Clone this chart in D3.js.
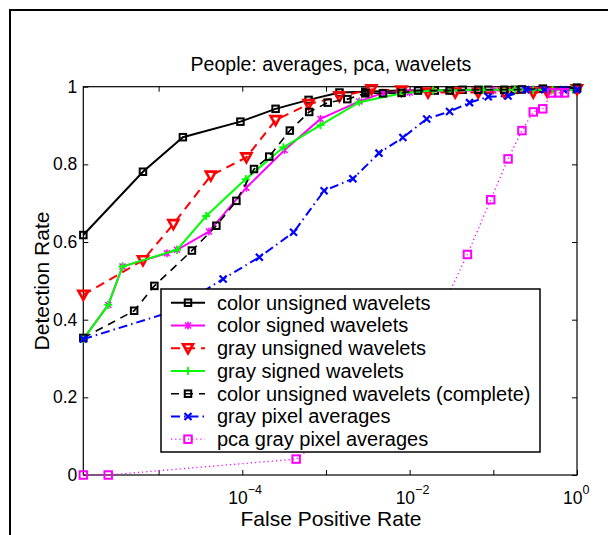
<!DOCTYPE html>
<html>
<head>
<meta charset="utf-8">
<script src="https://cdn.jsdelivr.net/npm/d3@7"></script>
<style>
body { margin: 0; background: #fff; }
svg { display: block; }
text { font-family: "Liberation Sans", Arial, sans-serif; fill: #000; }
</style>
</head>
<body>
<div id="chart"></div>
<script>
// values (x = false positive rate, y = detection rate)
const colorUnsignedFpr = [1.26e-6, 6.5e-6, 1.95e-5, 9.5e-5, 2.5e-4, 6.2e-4, 1.45e-3, 2.95e-3, 8e-3, 2e-2, 4.3e-2, 8.7e-2, 0.18, 0.39, 1];
const colorUnsignedDet = [0.618, 0.781, 0.870, 0.910, 0.943, 0.966, 0.985, 0.987, 0.99, 0.99, 0.992, 0.992, 0.992, 0.995, 0.997];

const colorSignedFpr = [1.26e-6, 2.5e-6, 3.7e-6, 1.26e-5, 1.66e-5, 4.0e-5, 1.12e-4, 3.2e-4, 8.6e-4, 2.5e-3, 4.8e-3, 1e-2, 3e-2, 0.1, 0.3, 1];
const colorSignedDet = [0.35, 0.438, 0.537, 0.571, 0.580, 0.627, 0.740, 0.837, 0.917, 0.962, 0.984, 0.985, 0.99, 0.99, 0.993, 0.995];

const grayUnsignedFpr = [1.26e-6, 6.5e-6, 1.5e-5, 4.2e-5, 1.12e-4, 2.5e-4, 6.2e-4, 1.45e-3, 3.5e-3, 8e-3, 1.66e-2, 3.5e-2, 6.6e-2, 0.135, 0.3, 0.44, 1];
const grayUnsignedDet = [0.464, 0.553, 0.646, 0.771, 0.818, 0.914, 0.955, 0.975, 0.993, 0.99, 0.985, 0.985, 0.985, 0.985, 0.985, 0.987, 0.993];

const graySignedFpr = [1.26e-6, 2.5e-6, 3.7e-6, 1.66e-5, 3.7e-5, 1.1e-4, 3.1e-4, 8.6e-4, 2.5e-3, 8e-3, 1.9e-2, 3e-2, 7.6e-2, 0.135, 0.18, 0.3, 0.51, 0.89];
const graySignedDet = [0.35, 0.438, 0.537, 0.580, 0.667, 0.762, 0.844, 0.901, 0.960, 0.983, 0.99, 0.99, 0.992, 0.992, 0.992, 0.992, 0.992, 0.992];

const completeFpr = [1.26e-6, 5.1e-6, 8.9e-6, 2.5e-5, 4.9e-5, 8.5e-5, 1.38e-4, 2.1e-4, 3.7e-4, 6.3e-4, 1.05e-3, 1.8e-3, 2.95e-3, 4.8e-3, 8e-3, 1.26e-2, 3e-2, 6.6e-2, 0.135, 0.22, 1];
const completeDet = [0.353, 0.423, 0.487, 0.578, 0.642, 0.706, 0.788, 0.820, 0.887, 0.935, 0.959, 0.968, 0.983, 0.983, 0.984, 0.99, 0.99, 0.992, 0.992, 0.993, 0.997];

const pixelAvgFpr = [1.26e-6, 1.4e-5, 5.9e-5, 1.6e-4, 4.1e-4, 9.5e-4, 2.1e-3, 4.3e-3, 8.3e-3, 1.6e-2, 3e-2, 5.2e-2, 8.7e-2, 0.15, 0.245, 0.41, 0.69, 1];
const pixelAvgDet = [0.35, 0.42, 0.505, 0.561, 0.625, 0.732, 0.763, 0.829, 0.869, 0.917, 0.936, 0.959, 0.974, 0.976, 0.992, 0.992, 0.992, 0.992];

const pcaFpr = [1.26e-6, 2.5e-6, 4.4e-4, 1.05e-2, 4.9e-2, 9.3e-2, 0.15, 0.22, 0.3, 0.39, 0.5, 0.6, 0.71];
const pcaDet = [0, 0, 0.041, 0.265, 0.568, 0.709, 0.814, 0.887, 0.935, 0.943, 0.984, 0.984, 0.984];

const seriesNames = [
    'color unsigned wavelets',
    'color signed wavelets',
    'gray unsigned wavelets',
    'gray signed wavelets',
    'color unsigned wavelets (complete)',
    'gray pixel averages',
    'pca gray pixel averages'
];

const xTicks = [1e-5, 1e-4, 1e-3, 1e-2, 1e-1, 1];
const xLabelTicks = [1e-4, 1e-2, 1];
const xLabelExps = ['\u22124', '\u22122', '0'];
const yTicks = [0, 0.2, 0.4, 0.6, 0.8, 1];
const yTickLabels = ['0', '0.2', '0.4', '0.6', '0.8', '1'];

const zip = (a, b) => a.map((v, i) => [v, b[i]]);

// styles per series, same order as the legend
const series = [
    { pts: zip(colorUnsignedFpr, colorUnsignedDet), color: '#000000', dash: null, width: 2, marker: 'square' },
    { pts: zip(colorSignedFpr, colorSignedDet), color: '#ff00ff', dash: null, width: 2, marker: 'star' },
    { pts: zip(grayUnsignedFpr, grayUnsignedDet), color: '#ff0000', dash: '9,6', width: 2, marker: 'tri' },
    { pts: zip(graySignedFpr, graySignedDet), color: '#00ff00', dash: null, width: 2, marker: 'plus' },
    { pts: zip(completeFpr, completeDet), color: '#000000', dash: '8,6', width: 1.6, marker: 'square' },
    { pts: zip(pixelAvgFpr, pixelAvgDet), color: '#0000ff', dash: '9,4,1.5,4', width: 2, marker: 'x' },
    { pts: zip(pcaFpr, pcaDet), color: '#ff00ff', dash: '1.2,3', width: 1.3, marker: 'bigsquare' }
];
series.forEach((s, i) => s.name = seriesNames[i]);

const W = 608, H = 535;
const x0 = 83.3, x1 = 577, yTop = 86.7, yBot = 475;

const svg = d3.select('#chart').append('svg')
    .attr('width', W)
    .attr('height', H);

// outer figure frame (runs off the right/bottom edge)
svg.append('rect')
    .attr('x', 10).attr('y', 10)
    .attr('width', 620).attr('height', 560)
    .attr('fill', 'none')
    .attr('stroke', '#000')
    .attr('stroke-width', 2);

const x = d3.scaleLog().domain([Math.pow(10, -5.9), 1]).range([x0, x1]);
const y = d3.scaleLinear().domain([0, 1]).range([yBot, yTop]);

// ticks, inward on all four sides
function styleAxis(g) {
    g.select('.domain').remove();
    g.selectAll('.tick line').attr('stroke', '#000').attr('stroke-width', 1);
}
svg.append('g').attr('transform', `translate(0,${yBot})`)
    .call(d3.axisBottom(x).tickValues(xTicks).tickSize(-5).tickFormat(''))
    .call(styleAxis);
svg.append('g').attr('transform', `translate(0,${yTop})`)
    .call(d3.axisTop(x).tickValues(xTicks).tickSize(-5).tickFormat(''))
    .call(styleAxis);
svg.append('g').attr('transform', `translate(${x0},0)`)
    .call(d3.axisLeft(y).tickValues(yTicks).tickSize(-5).tickPadding(6)
        .tickFormat((d, i) => yTickLabels[i]))
    .call(styleAxis)
    .call(g => g.selectAll('text').attr('font-size', 17.5).attr('fill', '#000')
        .attr('font-family', '"Liberation Sans", Arial, sans-serif'));
svg.append('g').attr('transform', `translate(${x1},0)`)
    .call(d3.axisRight(y).tickValues(yTicks).tickSize(-5).tickFormat(''))
    .call(styleAxis);

svg.append('rect')
    .attr('x', x0).attr('y', yTop)
    .attr('width', x1 - x0).attr('height', yBot - yTop)
    .attr('fill', 'none')
    .attr('stroke', '#000')
    .attr('stroke-width', 1.2);

// 10^n labels
const xl = svg.append('g').selectAll('text')
    .data(xLabelTicks)
    .join('text')
    .attr('x', d => x(d) - 14)
    .attr('y', 504)
    .attr('font-size', 17.5);
xl.append('tspan').text('10');
xl.append('tspan').attr('dy', -10).attr('font-size', 12.5).text((d, i) => xLabelExps[i]);

svg.append('text')
    .attr('x', 331).attr('y', 71)
    .attr('text-anchor', 'middle')
    .attr('font-size', 19.5)
    .text('People: averages, pca, wavelets');
svg.append('text')
    .attr('x', 331).attr('y', 526)
    .attr('text-anchor', 'middle')
    .attr('font-size', 21)
    .text('False Positive Rate');
svg.append('text')
    .attr('transform', 'translate(48.5,281) rotate(-90)')
    .attr('text-anchor', 'middle')
    .attr('font-size', 21)
    .text('Detection Rate');

function drawMarker(g, type, color, cx, cy) {
    if (type === 'square' || type === 'bigsquare') {
        const s = type === 'square' ? 6.5 : 7.5;
        g.append('rect')
            .attr('x', cx - s / 2).attr('y', cy - s / 2)
            .attr('width', s).attr('height', s)
            .attr('fill', 'none').attr('stroke', color).attr('stroke-width', 2);
    } else if (type === 'tri') {
        g.append('path')
            .attr('d', `M${cx - 5},${cy - 4}L${cx + 5},${cy - 4}L${cx},${cy + 5}Z`)
            .attr('fill', 'none').attr('stroke', color).attr('stroke-width', 2.6);
    } else if (type === 'plus') {
        g.append('path')
            .attr('d', `M${cx - 4},${cy}H${cx + 4}M${cx},${cy - 4}V${cy + 4}`)
            .attr('stroke', color).attr('stroke-width', 1.8);
    } else if (type === 'x') {
        g.append('path')
            .attr('d', `M${cx - 3.5},${cy - 3.5}L${cx + 3.5},${cy + 3.5}M${cx - 3.5},${cy + 3.5}L${cx + 3.5},${cy - 3.5}`)
            .attr('stroke', color).attr('stroke-width', 2.2);
    } else if (type === 'star') {
        g.append('path')
            .attr('d', `M${cx - 3},${cy - 3}L${cx + 3},${cy + 3}M${cx - 3},${cy + 3}L${cx + 3},${cy - 3}M${cx},${cy - 4}V${cy + 4}`)
            .attr('stroke', color).attr('stroke-width', 1.5);
    }
}

const line = d3.line()
    .x(d => x(d[0]))
    .y(d => y(d[1]));

const plot = svg.append('g');
series.forEach(s => {
    const g = plot.append('g');
    g.append('path')
        .attr('d', line(s.pts))
        .attr('fill', 'none')
        .attr('stroke', s.color)
        .attr('stroke-width', s.width)
        .attr('stroke-dasharray', s.dash);
    s.pts.forEach(p => drawMarker(g, s.marker, s.color, x(p[0]), y(p[1])));
});

// legend
const lx = 161, ly = 289, lw = 379, lh = 163, rowStep = 22.75;
const legend = svg.append('g');
legend.append('rect')
    .attr('x', lx).attr('y', ly)
    .attr('width', lw).attr('height', lh)
    .attr('fill', '#fff')
    .attr('stroke', '#000')
    .attr('stroke-width', 1.5);
series.forEach((s, i) => {
    const cy = ly + 13.7 + i * rowStep;
    const g = legend.append('g');
    g.append('line')
        .attr('x1', lx + 10).attr('x2', lx + 44)
        .attr('y1', cy).attr('y2', cy)
        .attr('stroke', s.color)
        .attr('stroke-width', s.width)
        .attr('stroke-dasharray', s.dash);
    drawMarker(g, s.marker, s.color, lx + 27, cy);
    g.append('text')
        .attr('x', lx + 56).attr('y', cy + 7)
        .attr('font-size', 20)
        .text(s.name);
});
</script>
</body>
</html>
